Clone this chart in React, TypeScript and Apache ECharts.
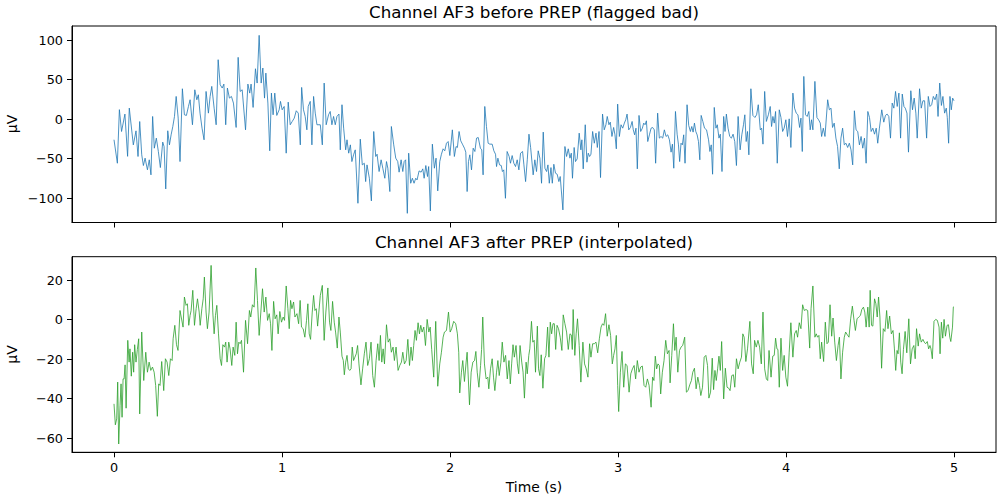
import React, { useEffect, useRef } from "react";
import * as echarts from "echarts";

// AF3 trace before PREP: [time (s), amplitude (µV)]
const beforePrep: [number, number][] = [
  [0, -26], [0.02, -55.7], [0.032, 12], [0.045, -15.6], [0.065, 6.4], [0.081, -47], [0.091, 14], [0.115, -32.5],
  [0.131, -14.8], [0.143, -47.2], [0.153, -3], [0.165, -45], [0.175, -58.6], [0.185, -49.3], [0.199, -64], [0.21, -51.4],
  [0.22, -70.4], [0.23, 3.4], [0.24, -36.7], [0.252, -24], [0.264, -40.9], [0.276, -61.2], [0.29, -29], [0.298, -34.6],
  [0.308, -88.2], [0.32, -14.7], [0.33, -32.5], [0.34, -19.8], [0.35, -9.3], [0.36, 3.4], [0.37, 28.7], [0.382, 1.3],
  [0.393, -53.6], [0.407, 38.4], [0.419, 5.5], [0.431, 4.7], [0.443, 16], [0.453, 24.5], [0.467, -7.1], [0.481, 37.1],
  [0.493, 24.5], [0.502, 30.8], [0.512, 7.6], [0.524, -11.4], [0.536, -26.1], [0.548, 35], [0.562, 7.6], [0.572, 28.7],
  [0.582, 41.4], [0.596, 13.9], [0.608, -7.1], [0.62, 75.1], [0.632, 43.5], [0.644, 39.3], [0.654, 44.3], [0.665, -7.1],
  [0.675, 39.3], [0.687, 26.6], [0.699, 28.7], [0.711, 20.3], [0.727, -10.5], [0.739, 78.1], [0.751, 35], [0.763, 37.1],
  [0.783, -13.5], [0.797, 44.3], [0.808, 32.9], [0.816, 44.3], [0.828, 14.8], [0.842, 63.7], [0.852, 45.6], [0.864, 105.9],
  [0.876, 45.6], [0.886, 64.6], [0.896, 26.6], [0.904, 58.2], [0.916, 20.3], [0.927, -40], [0.937, 32.9], [0.947, 5.5],
  [0.957, 32.9], [0.969, 4.7], [0.983, 11.8], [0.991, 22.4], [1.001, 11.8], [1.013, 16], [1.025, -43], [1.037, 21.5],
  [1.049, -7.1], [1.061, -2.9], [1.073, 1.3], [1.085, 10.6], [1.097, 7.6], [1.109, -32.5], [1.117, 40.1], [1.128, 11.8],
  [1.138, 3.4], [1.148, -13.5], [1.156, 16], [1.168, 22.4], [1.178, -32.5], [1.188, 28.7], [1.198, 7.6], [1.208, -7.1],
  [1.228, -7.1], [1.24, -32.5], [1.251, 45.6], [1.263, -7.1], [1.277, 5.5], [1.287, 9.7], [1.297, -7.1], [1.307, 3.4],
  [1.317, -7.1], [1.327, 3.4], [1.339, 6.4], [1.347, -38.8], [1.357, 18.2], [1.367, -11.4], [1.379, -38.8], [1.387, -26.1],
  [1.397, -43], [1.407, -32.5], [1.416, -53.6], [1.426, -45], [1.436, -38.8], [1.452, -106.3], [1.466, -25.3], [1.478, -57.8],
  [1.49, -55.7], [1.498, -78.9], [1.506, -57.8], [1.52, -74.7], [1.532, -103.3], [1.546, -15.6], [1.558, -47.2], [1.566, -44.3],
  [1.578, -66.2], [1.59, -51.4], [1.6, -62], [1.612, -74.7], [1.622, -53.6], [1.63, -62], [1.642, -91.5], [1.651, -9.3],
  [1.665, -32.5], [1.677, -49.3], [1.689, -53.6], [1.697, -67], [1.709, -51.4], [1.719, -66.2], [1.727, -53.6], [1.736, -51.4],
  [1.746, -119], [1.754, -43], [1.766, -81], [1.776, -74.7], [1.786, -81], [1.796, -74.7], [1.804, -76.8], [1.816, -65.4],
  [1.828, -67], [1.838, -62.8], [1.846, -74.7], [1.856, -58.6], [1.866, -72.5], [1.873, -59.9], [1.883, -116], [1.895, -31.6],
  [1.907, -62], [1.917, -49.3], [1.927, -90.7], [1.939, -53.6], [1.949, -44.3], [1.959, -37.5], [1.969, -40], [1.979, -30.4],
  [1.989, -28.3], [1.999, -46], [2.014, -13.5], [2.026, -47.2], [2.036, -34.6], [2.044, -35.8], [2.054, -15.6], [2.064, -27.4],
  [2.074, -31.6], [2.086, -36.7], [2.094, -41.7], [2.102, -91.5], [2.11, -53.6], [2.118, -45.1], [2.128, -64.1], [2.138, -36.7],
  [2.148, -40.9], [2.158, -24], [2.168, -23.2], [2.181, -36.7], [2.189, -38.8], [2.197, -70.4], [2.207, 16], [2.217, -9.3],
  [2.227, -30.4], [2.237, -31.6], [2.251, -31.6], [2.261, -40], [2.271, -44.3], [2.277, -59.9], [2.285, -49.3], [2.295, -57.8],
  [2.305, -58.6], [2.312, -66.2], [2.32, -64.1], [2.33, -100], [2.34, -40.9], [2.352, -47.2], [2.36, -55.7], [2.37, -46],
  [2.38, -55.7], [2.39, -59.9], [2.4, -51.4], [2.41, -64.1], [2.42, -43], [2.432, -40.9], [2.44, -57.8], [2.45, -78.9],
  [2.46, -51.4], [2.47, -19], [2.48, -36], [2.495, -70.4], [2.505, -51.4], [2.515, -66.2], [2.525, -40], [2.535, -49.3],
  [2.545, -81], [2.555, -16.4], [2.565, -62], [2.575, -66.2], [2.583, -57.8], [2.591, -81], [2.601, -61.2], [2.609, -81],
  [2.618, -57], [2.628, -68.3], [2.638, -69.6], [2.648, -78.9], [2.656, -72.5], [2.672, -114.7], [2.684, -34.6], [2.694, -47.2],
  [2.704, -37.5], [2.714, -49.3], [2.722, -43], [2.729, -74.7], [2.739, -35.8], [2.747, -53.6], [2.757, -50.2], [2.769, -17.7],
  [2.779, -38.8], [2.785, -26.1], [2.793, -62.8], [2.805, -7.1], [2.815, -54.4], [2.823, -43], [2.831, -47.2], [2.839, -44.3],
  [2.849, -15.6], [2.859, -30.4], [2.869, -17.7], [2.877, -35.8], [2.887, -15.6], [2.896, -73.8], [2.908, 6.4], [2.918, -13.5],
  [2.928, -7.1], [2.936, 3.4], [2.946, -7.1], [2.954, -3.8], [2.964, -21.9], [2.974, -10.5], [2.982, -19.8], [2.99, -37.5],
  [2.998, 19], [3.008, -21.9], [3.018, -7.1], [3.028, -11.4], [3.038, -5], [3.046, -0.8], [3.054, 6.4], [3.064, -13.5],
  [3.074, -10.5], [3.084, -2.9], [3.091, -13.5], [3.099, -19.8], [3.107, -11.4], [3.115, -62.8], [3.125, 4.7], [3.135, -15.6],
  [3.145, -11.4], [3.153, -5], [3.161, -7.1], [3.169, -2.1], [3.177, -28.3], [3.187, -19.8], [3.197, -11.4], [3.206, -10.5],
  [3.216, -13.5], [3.224, -55.7], [3.236, 7.6], [3.246, -24], [3.256, -21.9], [3.266, -24], [3.276, -13.5], [3.286, -21.9],
  [3.296, -19.8], [3.306, -26.1], [3.316, -41.7], [3.324, -31.6], [3.332, -62], [3.342, 9.7], [3.352, -19], [3.36, -32.5],
  [3.367, -53.6], [3.375, -30.4], [3.383, -32.5], [3.391, -19.8], [3.399, -55.7], [3.411, 18.2], [3.421, -8], [3.431, -15.6],
  [3.439, -9.3], [3.447, -16.4], [3.455, -5], [3.463, -15.6], [3.471, -19.8], [3.479, -28.3], [3.487, -51.4], [3.495, 4.7],
  [3.505, -2.9], [3.515, -11.4], [3.527, -13.5], [3.539, -26.1], [3.547, -40.9], [3.555, -32.5], [3.563, -69.6], [3.573, 14.8],
  [3.583, -11.4], [3.591, -7.1], [3.601, -24], [3.609, -19], [3.619, -66.2], [3.629, 3.4], [3.637, -15.6], [3.645, 6.4],
  [3.655, -11.4], [3.665, -21.9], [3.675, -24], [3.685, -19], [3.695, -28.3], [3.705, -58.6], [3.715, 3.4], [3.727, -38.8],
  [3.737, -19.8], [3.747, -7.1], [3.755, 5.5], [3.763, -28.3], [3.771, -15.6], [3.779, -45.1], [3.791, 38.4], [3.803, 4.7],
  [3.815, 2.1], [3.825, 5.5], [3.835, 18.2], [3.847, -13.5], [3.855, -11.4], [3.863, -31.6], [3.873, 35], [3.883, -2.9],
  [3.895, 5.5], [3.906, 16], [3.914, -9.3], [3.922, 3.4], [3.93, -5], [3.938, 9.7], [3.948, -55.7], [3.96, 11.8],
  [3.97, 2.1], [3.98, -15.6], [3.989, -11.4], [3.999, -0.8], [4.009, -21.9], [4.019, 0.4], [4.029, -35.8], [4.041, 32.9],
  [4.051, 13.9], [4.061, 7.6], [4.071, 5.5], [4.081, -10.5], [4.089, 1.3], [4.097, -40.9], [4.106, 54], [4.116, 5.5],
  [4.126, 3.4], [4.136, 9.7], [4.144, -13.5], [4.152, -0.8], [4.16, -13.5], [4.172, 47.7], [4.184, 2.1], [4.194, -0.8],
  [4.204, -5], [4.212, -21.9], [4.222, -11.4], [4.232, -21.9], [4.248, 24.5], [4.258, 11.8], [4.268, 13.9], [4.277, -10.5],
  [4.287, -5], [4.297, -24], [4.307, -34.6], [4.317, -62.8], [4.327, -24], [4.337, -11.4], [4.347, -32.5], [4.357, -30.4],
  [4.367, -35.8], [4.377, -30.4], [4.387, -38.8], [4.397, -57.8], [4.407, 10.6], [4.417, -13.5], [4.427, -15.6], [4.437, -32.5],
  [4.447, -21.9], [4.457, -36.7], [4.467, -24], [4.477, -55.7], [4.487, 9.7], [4.497, 2.1], [4.507, -15.6], [4.517, -11.4],
  [4.527, -19], [4.537, -11.4], [4.546, -30.4], [4.556, -11.4], [4.57, 11.8], [4.582, -3.8], [4.592, 4.7], [4.602, 6.4],
  [4.612, 3.4], [4.622, -24], [4.632, 20.3], [4.642, 13.9], [4.652, 35], [4.662, 16], [4.672, 32.9], [4.682, -24],
  [4.692, 31.7], [4.702, 16], [4.71, 13.9], [4.72, 7.6], [4.729, -41.7], [4.743, 35.9], [4.753, 11.8], [4.763, 26.6],
  [4.773, 7.6], [4.781, -24], [4.795, 38.4], [4.805, 13.9], [4.815, 23.2], [4.825, 23.2], [4.837, -24], [4.847, 28.7],
  [4.857, 16], [4.867, 18.2], [4.877, 28.7], [4.887, 24.5], [4.897, 31.7], [4.905, 3.4], [4.915, 45.6], [4.925, 17.3],
  [4.934, 28.7], [4.944, 7.6], [4.954, 13.9], [4.96, 2.1], [4.968, -30.4], [4.976, 28.7], [4.984, 11.8], [4.992, 26.6],
  [5.0, 23.2],
];

// AF3 trace after PREP interpolation: [time (s), amplitude (µV)]
const afterPrep: [number, number][] = [
  [0, -42.6], [0.008, -53.2], [0.016, -50.2], [0.022, -31.6], [0.028, -62.9], [0.036, -43.5], [0.042, -32.5], [0.048, -49.4],
  [0.054, -30], [0.06, -30], [0.066, -22.9], [0.072, -44.8], [0.082, -10.5], [0.09, -21.5], [0.095, -14.8], [0.103, -28.6],
  [0.111, -16.5], [0.117, -26.6], [0.123, -12.7], [0.131, -21.5], [0.139, -15.1], [0.147, -9.7], [0.153, -47.7], [0.165, -6.3],
  [0.177, -30.8], [0.189, -16.5], [0.199, -26.6], [0.209, -21.5], [0.219, -25.7], [0.229, -24], [0.239, -26.6], [0.248, -33.3],
  [0.258, -48.9], [0.266, -32.5], [0.274, -33.3], [0.284, -21.2], [0.296, -35.9], [0.306, -19.8], [0.316, -21.5], [0.326, -28.3],
  [0.336, -19.8], [0.346, -20.7], [0.352, -9.7], [0.362, -2.9], [0.372, -12.7], [0.381, -15.6], [0.393, 4.6], [0.401, 0.8],
  [0.411, -3.8], [0.419, 11.4], [0.429, 7.2], [0.437, 8], [0.445, -2.9], [0.453, 2.1], [0.459, 4.6], [0.469, 14.8],
  [0.479, -2.9], [0.489, 5.5], [0.497, 10.5], [0.507, 3.8], [0.513, -2.9], [0.523, 5.5], [0.531, 10.5], [0.538, 21.5],
  [0.548, 3.8], [0.556, -4.6], [0.566, 3.8], [0.578, 27.4], [0.588, 3.8], [0.596, -7.2], [0.604, 2.1], [0.612, 7.2],
  [0.622, -7.2], [0.632, -19.8], [0.64, -23.2], [0.648, -12.7], [0.658, -13.9], [0.665, -11.4], [0.673, -21.5], [0.683, -11.4],
  [0.691, -14.8], [0.701, -23.2], [0.709, -13.9], [0.719, -18.1], [0.727, -1.3], [0.735, -17.3], [0.743, -11.4], [0.751, -12.2],
  [0.759, -10.5], [0.771, -26.6], [0.783, -0.4], [0.795, -12.2], [0.806, 4.6], [0.814, 1.3], [0.824, 7.5], [0.834, 6.3],
  [0.844, 26.1], [0.854, 9.7], [0.864, -8], [0.874, 3.8], [0.884, 15.6], [0.894, 3.8], [0.904, 11.4], [0.914, -0.4],
  [0.924, 3], [0.932, -2.1], [0.94, -15.6], [0.95, 9.2], [0.959, 0.4], [0.969, 2.4], [0.977, -7.2], [0.987, 4.1],
  [0.997, -1.3], [1.007, 1.3], [1.015, -0.4], [1.025, 17], [1.035, 5.5], [1.043, -4.6], [1.051, 9.7], [1.059, 5.5],
  [1.069, 8.9], [1.077, 1.3], [1.089, 3], [1.099, -2.1], [1.108, 9.7], [1.116, -3.8], [1.126, -4.6], [1.136, -8.9],
  [1.146, -0.4], [1.154, 8], [1.162, -7.2], [1.17, -10], [1.18, 3.8], [1.188, 12.2], [1.196, 4.6], [1.204, 5.5],
  [1.212, -3.3], [1.228, 12.2], [1.24, 17.3], [1.251, -10.5], [1.261, 3.8], [1.273, 16], [1.283, -1.3], [1.291, -5.5],
  [1.301, 9.2], [1.311, -1.3], [1.319, -6.3], [1.329, -14.4], [1.339, 1.3], [1.347, -6.3], [1.357, -18.5], [1.365, -20.7],
  [1.371, -27.9], [1.379, -21.5], [1.387, -18.1], [1.395, -24.9], [1.403, -25.7], [1.411, -24.9], [1.418, -13.9], [1.426, -20.7],
  [1.434, -19], [1.442, -17.3], [1.45, -13.1], [1.458, -22.4], [1.47, -33], [1.48, -24.9], [1.49, -17.3], [1.5, -11.4],
  [1.51, -23.2], [1.52, -19.8], [1.53, -11.4], [1.54, -28.3], [1.55, -34.2], [1.56, -20.7], [1.57, -12.2], [1.578, -20.7],
  [1.586, -8], [1.594, -21.5], [1.602, -14.8], [1.61, -22.4], [1.622, -2.6], [1.632, -11.4], [1.642, -9.7], [1.651, -16.5],
  [1.661, -13.9], [1.669, -20.7], [1.679, -13.9], [1.691, -25.7], [1.701, -23.2], [1.711, -21.5], [1.719, -16.5], [1.729, -22.4],
  [1.739, -20.7], [1.749, -10], [1.759, -23.2], [1.768, -13.9], [1.776, -20.7], [1.784, -13.1], [1.792, -5.5], [1.8, -10.5],
  [1.81, -1.6], [1.818, -7.2], [1.826, -2.9], [1.834, -6.3], [1.844, -3.8], [1.854, -13.1], [1.864, 0.1], [1.874, -6.3],
  [1.882, -3.8], [1.891, -15.1], [1.903, -29.1], [1.915, -0.9], [1.927, -33.7], [1.939, -22.4], [1.949, -16.5], [1.959, -8.9],
  [1.967, -6.3], [1.979, -5.5], [1.991, 3.8], [2.001, -6.3], [2.01, -4.6], [2.022, -0.9], [2.034, -2.1], [2.044, -7.2],
  [2.052, -16.5], [2.058, -37.1], [2.068, -26.6], [2.076, -20.7], [2.086, -31.3], [2.096, -21.5], [2.102, -16.5], [2.116, -43.1],
  [2.126, -26.6], [2.136, -21.5], [2.146, -20.7], [2.154, -16.1], [2.162, -26.6], [2.172, -34.2], [2.182, -23.2], [2.188, -15.1],
  [2.195, 1.3], [2.205, -22.4], [2.215, -30], [2.225, -29.1], [2.231, -35], [2.241, -24.9], [2.251, -19.8], [2.259, -29.1],
  [2.267, -35.9], [2.277, -26.6], [2.285, -20.7], [2.293, -28.3], [2.303, -21.5], [2.311, -11.4], [2.321, -21.5], [2.331, -18.1],
  [2.341, -30], [2.351, -20.7], [2.359, -32.5], [2.367, -22.4], [2.375, -12.7], [2.383, -19], [2.393, -13.1], [2.401, -22.4],
  [2.409, -27.4], [2.417, -13.1], [2.427, -21.5], [2.435, -26.6], [2.443, -39.7], [2.453, -21.5], [2.46, -27.4], [2.469, -18.1],
  [2.475, -14.8], [2.485, -0.9], [2.493, -11.4], [2.501, -10.5], [2.509, -26.6], [2.52, -3.3], [2.527, -24.9], [2.535, -28.3],
  [2.543, -17.8], [2.553, -34.7], [2.563, -19.8], [2.571, -18.1], [2.581, -3.8], [2.589, -19], [2.597, -1.3], [2.605, -7.2],
  [2.613, -2.1], [2.621, -2.1], [2.629, -15.1], [2.637, -2.9], [2.646, -4.6], [2.656, -8.9], [2.666, -15.6], [2.674, 2.4],
  [2.684, -2.1], [2.694, -6.3], [2.704, -15.1], [2.714, -7.2], [2.722, -7.7], [2.728, -15.1], [2.733, 5.1], [2.743, -18.1],
  [2.751, -7.2], [2.759, 0.4], [2.769, -13.1], [2.779, -31.6], [2.791, -11.4], [2.801, -22.4], [2.811, -24.9], [2.821, -29.1],
  [2.831, -12.2], [2.839, -19], [2.849, -12.2], [2.859, -12.2], [2.869, -11.4], [2.879, -16.8], [2.889, -9.7], [2.899, -3.8],
  [2.908, -2.1], [2.916, -2.9], [2.926, 3], [2.936, -8.4], [2.946, -2.6], [2.956, -8], [2.966, -22.4], [2.974, -18.1],
  [2.982, -14.8], [2.99, -8], [2.998, -33.3], [3.004, -46.5], [3.014, -26.6], [3.024, -16.1], [3.034, -34.2], [3.044, -22.4],
  [3.054, -23.2], [3.066, -36.7], [3.076, -27.4], [3.086, -24.9], [3.096, -23.2], [3.105, -30], [3.115, -20.7], [3.125, -26.6],
  [3.135, -24], [3.145, -23.5], [3.155, -33.3], [3.165, -34.2], [3.175, -30], [3.185, -33.3], [3.197, -44.3], [3.206, -29.1],
  [3.214, -30.8], [3.222, -18.5], [3.23, -24.9], [3.238, -22.4], [3.246, -23.2], [3.254, -37.6], [3.264, -26.6], [3.274, -20.7],
  [3.284, -10.5], [3.294, -17.3], [3.304, -15.6], [3.31, -32], [3.32, -18.1], [3.33, -2.1], [3.338, -15.6], [3.346, -8.9],
  [3.356, -26.6], [3.366, -15.6], [3.375, -13.9], [3.385, -13.1], [3.397, -8.9], [3.407, -36.7], [3.417, -35.9], [3.427, -33],
  [3.437, -30.8], [3.445, -26.6], [3.455, -24.6], [3.465, -35], [3.475, -29.1], [3.485, -33.3], [3.493, -38.4], [3.503, -34.2],
  [3.513, -19], [3.523, -18.1], [3.533, -23.2], [3.541, -39.7], [3.551, -36.7], [3.561, -19.5], [3.569, -35.4], [3.577, -25.7],
  [3.585, -30.8], [3.593, -24.9], [3.601, -18.5], [3.609, -25.7], [3.617, -11.1], [3.629, -40.1], [3.639, -24.6], [3.649, -34.2],
  [3.659, -34.7], [3.667, -35.9], [3.677, -28.3], [3.687, -27.9], [3.695, -34.2], [3.705, -19.8], [3.715, -24.9], [3.725, -21.5],
  [3.735, -19], [3.743, -7.2], [3.751, -8.9], [3.761, -21.2], [3.771, -14.8], [3.785, -0.9], [3.795, -22.4], [3.805, -27.4],
  [3.813, -10.5], [3.823, -13.9], [3.833, -10.5], [3.843, -13.9], [3.853, -22.4], [3.863, 3.8], [3.873, -24.9], [3.883, -30],
  [3.891, -30.8], [3.899, -15.6], [3.911, -29.1], [3.921, -18.5], [3.93, -18.1], [3.938, -9.4], [3.946, -14.8], [3.952, -15.1],
  [3.96, -34.2], [3.97, -9.4], [3.98, -25.7], [3.989, -18.1], [3.999, -29.1], [4.009, -33.7], [4.019, -16.5], [4.029, -1.6],
  [4.041, -19], [4.051, -7.2], [4.061, -5.5], [4.069, -8.9], [4.079, -1.6], [4.089, -4.6], [4.099, 7.5], [4.109, 4.6],
  [4.119, 5.1], [4.129, 4.6], [4.141, -14.4], [4.149, 5.5], [4.16, 17], [4.172, -8.9], [4.18, -7.2], [4.188, -8.9],
  [4.196, -8], [4.204, -19.8], [4.212, -11.4], [4.224, -21.2], [4.234, -1.3], [4.244, -12.2], [4.252, -11.4], [4.262, 7.5],
  [4.272, -8.4], [4.28, 0.8], [4.29, -11.4], [4.3, -20.7], [4.31, -13.1], [4.318, -8.9], [4.327, -30], [4.337, -16.5],
  [4.347, -8.9], [4.355, -6.3], [4.365, -7.7], [4.375, -8.9], [4.385, 0.4], [4.395, 6.8], [4.405, -0.4], [4.413, -5.5],
  [4.423, 0.4], [4.433, 1.3], [4.443, 2.1], [4.451, 5.1], [4.461, 6.3], [4.469, 3.8], [4.477, -3.8], [4.487, 6.3],
  [4.495, -3.8], [4.501, 14.8], [4.509, -2.9], [4.517, -3.3], [4.527, 10.5], [4.535, 8], [4.543, 1.3], [4.551, 11.4],
  [4.559, 1.3], [4.569, -24.6], [4.579, -4.6], [4.589, -6], [4.599, 4.6], [4.607, -4.6], [4.617, 1.8], [4.627, -7.2],
  [4.637, -5.5], [4.645, -14.4], [4.653, -25.7], [4.661, -15.6], [4.667, -17.3], [4.675, -6.7], [4.683, -21.5], [4.691, -27.4],
  [4.699, -15.1], [4.709, -6], [4.719, -16.8], [4.731, 0.4], [4.741, -22.4], [4.751, -14.8], [4.761, -13.1], [4.769, -19.8],
  [4.777, -4.6], [4.787, -13.4], [4.795, -7.2], [4.805, -11.4], [4.815, -10], [4.823, -11.4], [4.831, -12.2], [4.841, -11.1],
  [4.849, -14.8], [4.857, -13.1], [4.863, -14.8], [4.871, -19.8], [4.881, -0.9], [4.891, 0.1], [4.901, -0.4], [4.911, -3.8],
  [4.917, -17.3], [4.925, -1.3], [4.933, -9.4], [4.941, 0.1], [4.949, -8.4], [4.959, -2.9], [4.967, -2.6], [4.975, -8.9],
  [4.981, -11.1], [4.991, -3.8], [4.996, 6.3], [5.0, 6.6],
];

const timeTicks = [0, 1, 2, 3, 4, 5];
const beforeTicks = [-100, -50, 0, 50, 100];
const afterTicks = [-60, -40, -20, 0, 20];

const FONT = "DejaVu Sans";
const fmt = (v: number) => String(v).replace("-", "\u2212");

const tickStyle = (values: number[]) => ({
  show: true,
  inside: false,
  length: 5,
  customValues: values,
  lineStyle: { color: "#000", width: 1 },
});

const labelStyle = (values: number[], show = true) => ({
  show,
  customValues: values,
  margin: 9,
  color: "#000",
  fontFamily: FONT,
  fontSize: 12.8,
  formatter: (v: number) => fmt(v),
});

export default function App() {
  const ref = useRef<HTMLDivElement>(null);

  useEffect(() => {
    if (!ref.current) return;
    const chart = echarts.init(ref.current, undefined, { renderer: "svg" });
    const frame = { show: true, borderColor: "#000", borderWidth: 1, backgroundColor: "transparent" };
    const axisLine = { show: true, onZero: false, lineStyle: { color: "#000", width: 1 } };

    const title = (text: string, y: number) => ({
      type: "text", x: 534, y,
      style: { text, fontFamily: FONT, fontSize: 16.7, fill: "#000", align: "center", verticalAlign: "middle" },
    });
    const label = (text: string, x: number, y: number, rotation = 0) => ({
      type: "text", x, y, rotation,
      style: { text, fontFamily: FONT, fontSize: 13.9, fill: "#000", align: "center", verticalAlign: "middle" },
    });

    chart.setOption({
      animation: false,
      backgroundColor: "#fff",
      grid: [
        { left: 72, top: 26, width: 924, height: 196.5, ...frame },
        { left: 72, top: 256.7, width: 924, height: 195.6, ...frame },
      ],
      xAxis: [
        {
          type: "value", gridIndex: 0, min: -0.25, max: 5.25,
          axisLine, axisTick: tickStyle(timeTicks), axisLabel: labelStyle(timeTicks, false),
          splitLine: { show: false },
        },
        {
          type: "value", gridIndex: 1, min: -0.25, max: 5.25,
          axisLine, axisTick: tickStyle(timeTicks), axisLabel: labelStyle(timeTicks),
          splitLine: { show: false },
        },
      ],
      yAxis: [
        {
          type: "value", gridIndex: 0, min: -130.6, max: 117.7,
          axisLine, axisTick: tickStyle(beforeTicks), axisLabel: labelStyle(beforeTicks),
          splitLine: { show: false },
        },
        {
          type: "value", gridIndex: 1, min: -67.1, max: 31.8,
          axisLine, axisTick: tickStyle(afterTicks), axisLabel: labelStyle(afterTicks),
          splitLine: { show: false },
        },
      ],
      series: [
        {
          type: "line", xAxisIndex: 0, yAxisIndex: 0, data: beforePrep,
          showSymbol: false, silent: true,
          lineStyle: { color: "#1f77b4", width: 0.8 },
        },
        {
          type: "line", xAxisIndex: 1, yAxisIndex: 1, data: afterPrep,
          showSymbol: false, silent: true,
          lineStyle: { color: "#2ca02c", width: 0.8 },
        },
      ],
      graphic: [
        title("Channel AF3 before PREP (flagged bad)", 12),
        title("Channel AF3 after PREP (interpolated)", 242),
        label("µV", 12, 124, Math.PI / 2),
        label("µV", 12, 354.5, Math.PI / 2),
        label("Time (s)", 534, 487),
      ],
    });

    return () => chart.dispose();
  }, []);

  return (
    <div
      ref={ref}
      style={{ position: "absolute", left: 0, top: 0, width: 1000, height: 500 }}
    />
  );
}
